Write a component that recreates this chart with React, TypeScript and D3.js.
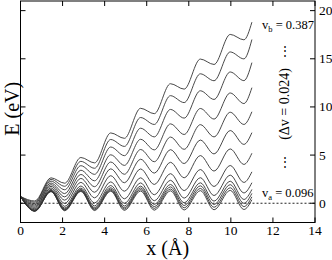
import * as d3 from "d3"

// x positions of the extrema (shared by all curves)
const xPoints = [0, 0.68, 1.45, 2.1, 2.87, 3.52, 4.29, 4.94, 5.71, 6.36, 7.13, 7.78, 8.55, 9.2, 9.97, 10.62, 11.0]

// energies (eV) at xPoints, from v_a = 0.096 (bottom) up to v_b = 0.387 (top)
const curveEnergies = [
  [0.7, -0.84, 1.21, -0.78, 1.23, -0.76, 1.25, -0.74, 1.27, -0.72, 1.29, -0.7, 1.31, -0.68, 1.34, -0.65, 0.36],
  [0.7, -0.82, 1.24, -0.72, 1.29, -0.67, 1.35, -0.61, 1.42, -0.54, 1.48, -0.48, 1.54, -0.42, 1.61, -0.35, 0.66],
  [0.7, -0.8, 1.26, -0.68, 1.36, -0.58, 1.47, -0.47, 1.59, -0.35, 1.7, -0.24, 1.81, -0.13, 1.93, -0.01, 1.02],
  [0.7, -0.78, 1.3, -0.6, 1.44, -0.46, 1.61, -0.29, 1.78, -0.12, 1.95, 0.05, 2.12, 0.22, 2.29, 0.39, 1.43],
  [0.7, -0.74, 1.35, -0.5, 1.57, -0.28, 1.84, -0.01, 2.11, 0.26, 2.38, 0.53, 2.65, 0.8, 2.92, 1.07, 2.13],
  [0.7, -0.67, 1.44, -0.32, 1.79, 0.03, 2.22, 0.46, 2.64, 0.88, 3.07, 1.31, 3.5, 1.74, 3.92, 2.16, 3.26],
  [0.7, -0.56, 1.59, -0.02, 2.17, 0.56, 2.86, 1.25, 3.56, 1.95, 4.25, 2.64, 4.95, 3.34, 5.64, 4.03, 5.19],
  [0.7, -0.43, 1.76, 0.32, 2.58, 1.14, 3.57, 2.13, 4.57, 3.13, 5.56, 4.12, 6.56, 5.12, 7.55, 6.11, 7.33],
  [0.7, -0.3, 1.93, 0.66, 2.99, 1.72, 4.28, 3.01, 5.58, 4.31, 6.87, 5.6, 8.16, 6.89, 9.45, 8.18, 9.5],
  [0.7, -0.17, 2.1, 1.0, 3.43, 2.33, 5.03, 3.93, 6.64, 5.54, 8.24, 7.14, 9.84, 8.74, 11.45, 10.35, 12.0],
  [0.7, -0.03, 2.3, 1.4, 3.9, 3.0, 5.84, 4.94, 7.79, 6.89, 9.74, 8.84, 11.68, 10.78, 13.63, 12.73, 14.6],
  [0.7, 0.11, 2.48, 1.76, 4.35, 3.63, 6.62, 5.9, 8.9, 8.18, 11.17, 10.45, 13.44, 12.72, 15.71, 14.99, 17.0],
  [0.7, 0.23, 2.64, 2.08, 4.75, 4.19, 7.3, 6.74, 9.86, 9.3, 12.41, 11.85, 14.97, 14.41, 17.53, 16.97, 18.8],
]

const xTicks = [0, 2, 4, 6, 8, 10, 12, 14]
const yTicks = [0, 5, 10, 15, 20]

const W = 332
const H = 260
const left = 20.5
const right = 315
const top = 1
const bottom = 222.5
const font = "'Liberation Serif', 'Times New Roman', serif"

export default function App() {
  const x = d3.scaleLinear().domain([0, 14]).range([left, right])
  const y = d3.scaleLinear().domain([-2, 21]).range([bottom, top])

  const line = d3
    .line<number>()
    .x((_, i) => x(xPoints[i]))
    .y((d) => y(d))
    .curve(d3.curveMonotoneX)

  const tickLen = 5

  return (
    <svg width={W} height={H} style={{ position: "absolute", left: 0, top: 0, background: "#fff" }}>
      {/* zero line */}
      <line x1={x(0)} x2={x(14)} y1={y(0)} y2={y(0)} stroke="#222" strokeWidth={1} strokeDasharray="2,2" />

      {curveEnergies.map((c, i) => (
        <path key={i} d={line(c) || ""} fill="none" stroke="#333" strokeWidth={0.9} />
      ))}

      {/* frame */}
      <rect x={left} y={top} width={right - left} height={bottom - top} fill="none" stroke="#000" strokeWidth={1} />

      {xTicks.map((t) => (
        <g key={"x" + t}>
          <line x1={x(t)} x2={x(t)} y1={bottom} y2={bottom - tickLen} stroke="#000" />
          <line x1={x(t)} x2={x(t)} y1={top} y2={top + tickLen} stroke="#000" />
          <text x={x(t)} y={235} textAnchor="middle" fontFamily={font} fontSize={13.5}>
            {t}
          </text>
        </g>
      ))}

      {yTicks.map((t) => (
        <g key={"y" + t}>
          <line x1={left} x2={left + tickLen} y1={y(t)} y2={y(t)} stroke="#000" />
          <line x1={right} x2={right - tickLen} y1={y(t)} y2={y(t)} stroke="#000" />
          <text x={319} y={y(t) + 4.5} textAnchor="start" fontFamily={font} fontSize={13.5}>
            {t}
          </text>
        </g>
      ))}

      {/* axis titles */}
      <text x={(left + right) / 2} y={255} textAnchor="middle" fontFamily={font} fontSize={20}>
        x (Å)
      </text>
      <text
        transform={`translate(18.5,${(top + bottom) / 2 - 3}) rotate(-90)`}
        textAnchor="middle"
        fontFamily={font}
        fontSize={20}
      >
        E (eV)
      </text>

      {/* annotations */}
      <text x={262} y={29} fontFamily={font} fontSize={12.5}>
        v<tspan dy={3} fontSize={8.5}>b</tspan>
        <tspan dy={-3}> = 0.387</tspan>
      </text>
      <text x={262} y={197} fontFamily={font} fontSize={12.5}>
        v<tspan dy={3} fontSize={8.5}>a</tspan>
        <tspan dy={-3}> = 0.096</tspan>
      </text>
      <text x={285} y={55} textAnchor="middle" fontFamily={font} fontSize={12}>
        ⋮
      </text>
      <text x={285} y={166} textAnchor="middle" fontFamily={font} fontSize={12}>
        ⋮
      </text>
      <text
        transform="translate(289,104) rotate(-90)"
        textAnchor="middle"
        fontFamily={font}
        fontSize={14}
      >
        (Δv = 0.024)
      </text>
    </svg>
  )
}
